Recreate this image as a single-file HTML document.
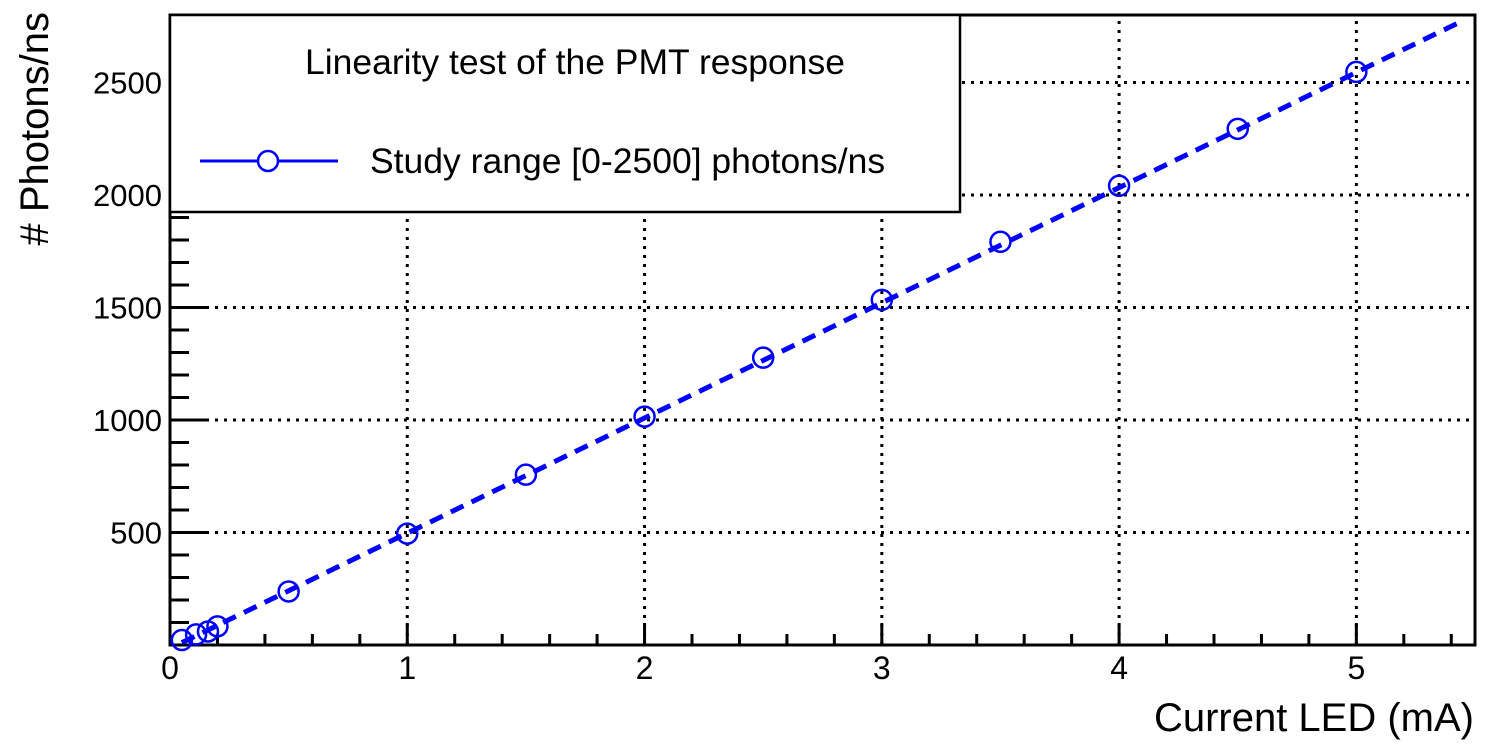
<!DOCTYPE html>
<html><head><meta charset="utf-8"><style>
html,body{margin:0;padding:0;background:#fff;}
svg{display:block;font-family:"Liberation Sans",sans-serif;}
</style></head><body>
<svg id="chart" width="1486" height="750" viewBox="0 0 1486 750"></svg>
<script>
const xs = [0.05, 0.11, 0.16, 0.2, 0.5, 1, 1.5, 2, 2.5, 3, 3.5, 4, 4.5, 5];
const ys = [22, 47, 60, 83, 238, 495, 757, 1015, 1277, 1534, 1792, 2041, 2294, 2547];
const xTicks = [0, 1, 2, 3, 4, 5];
const yTicks = [500, 1000, 1500, 2000, 2500];
const fitSlope = [512];
const fitIntercept = [-15];

const L=170,R=1475,T=15,B=645, XMAX=5.5, YMAX=2800;
const sx=v=>L+(R-L)*v/XMAX, sy=v=>B-(B-T)*v/YMAX;
const svg=document.getElementById('chart');
const NS='http://www.w3.org/2000/svg';
function mk(tag,attrs,parent){const e=document.createElementNS(NS,tag);for(const k in attrs)e.setAttribute(k,attrs[k]);(parent||svg).appendChild(e);return e;}

for(const t of xTicks){ if(t===0)continue;
  const g=mk('line',{x1:sx(t),x2:sx(t),y1:B,y2:T,stroke:'#000','stroke-width':3,'stroke-dasharray':'3,6'});
  
  
}
for(const t of yTicks){
  const g=mk('line',{x1:L,x2:R,y1:sy(t),y2:sy(t),stroke:'#000','stroke-width':3,'stroke-dasharray':'3,6'});
  
  
}
for(let v=0;v<=XMAX+1e-9;v+=0.2){
  const major=Math.abs(v-Math.round(v))<1e-6;
  const t=mk('line',{x1:sx(v),x2:sx(v),y1:B,y2:B-(major?22:11),stroke:'#000','stroke-width':3});
  
  
}
for(let v=100;v<=YMAX;v+=100){
  const major=v%500===0;
  const t=mk('line',{x1:L,x2:L+(major?38:19),y1:sy(v),y2:sy(v),stroke:'#000','stroke-width':3});
  
  
}
const fr=mk('rect',{x:L,y:T,width:R-L,height:B-T,fill:'none',stroke:'#000','stroke-width':3});


for(const t of xTicks){
  const tx=mk('text',{x:sx(t),y:679,'font-size':32,'text-anchor':'middle'});tx.textContent=t;
  
  
}
for(const t of yTicks){
  const tx=mk('text',{x:162,y:sy(t)+11,'font-size':31,'text-anchor':'end'});tx.textContent=t;
  
  
}
const x0=0.05,x1=5.45;
const fl=mk('line',{x1:sx(x0),y1:sy(fitSlope[0]*x0+fitIntercept[0]),x2:sx(x1),y2:sy(fitSlope[0]*x1+fitIntercept[0]),stroke:'#0000ff','stroke-width':5,'stroke-dasharray':'14,9'});


xs.forEach((x,i)=>{
  const c=mk('circle',{cx:sx(x),cy:sy(ys[i]),r:10,fill:'none',stroke:'#0000ff','stroke-width':2.5});
  
  
});
const lg=mk('g',{});


mk('rect',{x:170,y:15,width:790,height:197,fill:'#fff',stroke:'#000','stroke-width':2.5},lg);
const lt=mk('text',{x:575,y:74,'font-size':35.5,'text-anchor':'middle'},lg);lt.textContent='Linearity test of the PMT response';


mk('line',{x1:200,x2:338,y1:161,y2:161,stroke:'#0000ff','stroke-width':3},lg);
mk('circle',{cx:268,cy:161,r:10,fill:'#fff',stroke:'#0000ff','stroke-width':2.5},lg);
const le=mk('text',{x:370,y:173,'font-size':35.5},lg);le.textContent='Study range [0-2500] photons/ns';


const xt=mk('text',{x:1474,y:731,'font-size':40,'text-anchor':'end'});xt.textContent='Current LED (mA)';


const yt=mk('text',{x:0,y:0,'font-size':40,'text-anchor':'end',transform:'translate(48,12) rotate(-90)'});yt.textContent='# Photons/ns';


</script>
</body></html>
